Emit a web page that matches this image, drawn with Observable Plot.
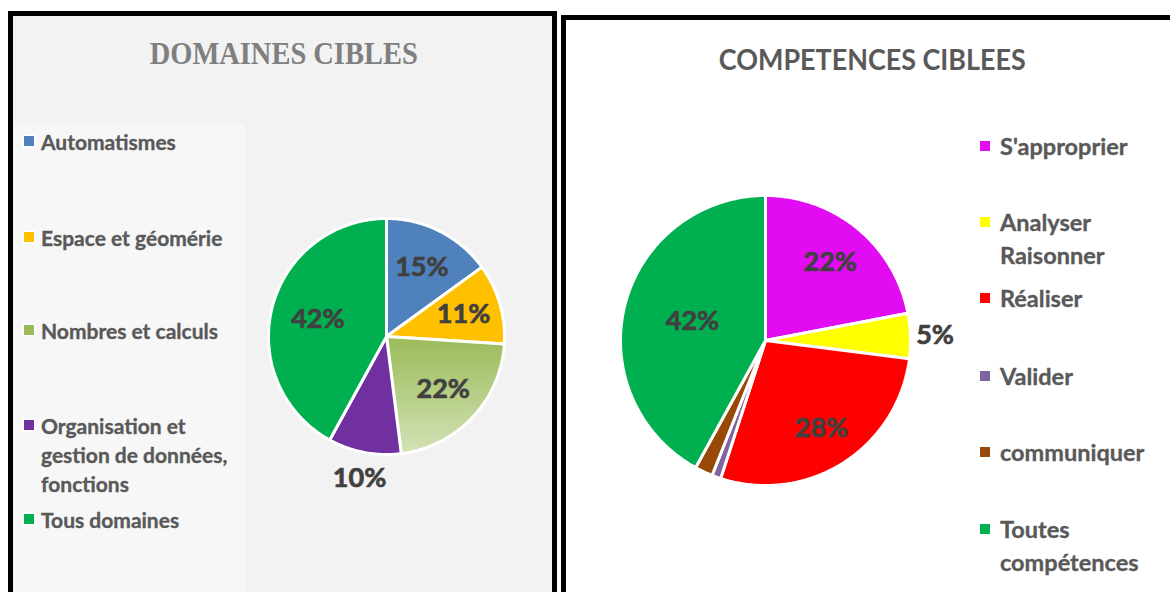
<!DOCTYPE html>
<html>
<head>
<meta charset="utf-8">
<script src="https://cdn.jsdelivr.net/npm/d3@7"></script>
<script src="https://cdn.jsdelivr.net/npm/@observablehq/plot@0.6"></script>
<style>
  html, body { margin: 0; padding: 0; background: #ffffff; }
  body { width: 1170px; height: 592px; position: relative; overflow: hidden; font-family: Lato, "Open Sans", sans-serif; }
  .panel { position: absolute; box-sizing: border-box; border: 5px solid #000; }
  #left { left: 8px; top: 11px; width: 549px; height: 640px; background: #f2f2f2; }
  #right { left: 561px; top: 15px; width: 700px; height: 640px; background: #ffffff; }
  #legendBox { position: absolute; left: 14px; top: 124px; width: 231px; height: 520px; background: #f7f7f7; }
  .title { position: absolute; white-space: nowrap; font-weight: bold; transform-origin: center center; }
  .leg { position: absolute; font-weight: bold; white-space: nowrap; -webkit-text-stroke: 0.35px currentColor; }
  .sw { position: absolute; width: 10px; height: 10px; box-shadow: 0 0 0 1.5px #fff; }
  .plot { position: absolute; }
</style>
</head>
<body>
<div class="panel" id="left"></div>
<div class="panel" id="right"></div>
<div id="legendBox"></div>
<div id="stage"></div>
<script>
// ---------- data ----------
const domaines = ["Automatismes", "Espace et géomérie", "Nombres et calculs", "Organisation et gestion de données, fonctions", "Tous domaines"];
const domainesLegendLines = [["Automatismes"], ["Espace et géomérie"], ["Nombres et calculs"], ["Organisation et", "gestion de données,", "fonctions"], ["Tous domaines"]];
const domainesValues = [15, 11, 22, 10, 42];
const domainesLabels = ["15%", "11%", "22%", "10%", "42%"];
const domainesColors = ["#4f81bd", "#ffc000", "url(#gradNombres)", "#7030a0", "#00b050"];
const domainesSwatch = ["#4f81bd", "#ffc000", "#9bbb59", "#7030a0", "#00b050"];

const competences = ["S'approprier", "Analyser Raisonner", "Réaliser", "Valider", "communiquer", "Toutes compétences"];
const competencesLegendLines = [["S'approprier"], ["Analyser", "Raisonner"], ["Réaliser"], ["Valider"], ["communiquer"], ["Toutes", "compétences"]];
const competencesValues = [22, 5, 28, 1, 2, 42];
const competencesLabels = ["22%", "5%", "28%", "", "", "42%"];
const competencesColors = ["#e10cf2", "#ffff00", "#ff0000", "#8064a2", "#984807", "#00b050"];

// ---------- layout / style (not data) ----------
const leftPie = { cx: 386, cy: 336, r: 118, R: 1.5, labelR: [0.66, 0.68, 0.66, 1.22, 0.6] };
const rightPie = { cx: 765, cy: 340, r: 145, R: 1.4, labelR: [0.7, 1.17, 0.72, 0, 0, 0.52] };
const FONT = "Lato, 'Open Sans', sans-serif";

function slicePolygons(names, values) {
  const arcs = d3.pie().sort(null).value(d => d)(values);
  return arcs.map((a, i) => {
    const pts = [{x: 0, y: 0}];
    const n = Math.max(2, Math.ceil((a.endAngle - a.startAngle) / 0.01));
    for (let k = 0; k <= n; k++) {
      const t = a.startAngle + (a.endAngle - a.startAngle) * k / n;
      pts.push({x: Math.sin(t), y: Math.cos(t)});
    }
    pts.push({x: 0, y: 0});
    return {name: names[i], mid: (a.startAngle + a.endAngle) / 2, pts};
  });
}

function pie(names, values, labels, colors, cfg, gradient) {
  const slices = slicePolygons(names, values);
  const labelData = slices.map((s, i) => ({
    x: cfg.labelR[i] * Math.sin(s.mid), y: cfg.labelR[i] * Math.cos(s.mid), text: labels[i]
  })).filter(d => d.text);
  const size = 2 * cfg.R * cfg.r;
  const svg = Plot.plot({
    width: size, height: size, margin: 0,
    x: {domain: [-cfg.R, cfg.R], axis: null},
    y: {domain: [-cfg.R, cfg.R], axis: null},
    style: {background: "transparent", overflow: "visible"},
    marks: [
      ...slices.map((s, i) => Plot.line(s.pts, {x: "x", y: "y", fill: colors[i], stroke: "#ffffff", strokeWidth: 3, strokeLinejoin: "miter"})),
      Plot.text(labelData, {x: "x", y: "y", text: "text", fontSize: 27, fontWeight: "bold", fill: "#404040", stroke: "#404040", strokeWidth: 0.7, fontFamily: FONT})
    ]
  });
  if (gradient) {
    const defs = document.createElementNS("http://www.w3.org/2000/svg", "defs");
    defs.innerHTML = gradient;
    svg.insertBefore(defs, svg.firstChild);
  }
  svg.classList.add("plot");
  svg.style.left = (cfg.cx - size / 2) + "px";
  svg.style.top = (cfg.cy - size / 2) + "px";
  document.getElementById("stage").appendChild(svg);
}

pie(domaines, domainesValues, domainesLabels, domainesColors, leftPie,
  '<linearGradient id="gradNombres" x1="0" y1="0" x2="0" y2="1"><stop offset="0" stop-color="#9bbb59"/><stop offset="1" stop-color="#d3e2b6"/></linearGradient>');
pie(competences, competencesValues, competencesLabels, competencesColors, rightPie, null);

// ---------- titles ----------
function title(text, cx, cy, width, font, size, color) {
  const d = document.createElement("div");
  d.className = "title";
  d.textContent = text;
  d.style.fontFamily = font; d.style.fontSize = size + "px"; d.style.color = color; d.style.lineHeight = size + "px";
  document.body.appendChild(d);
  const w = d.getBoundingClientRect().width;
  d.style.left = (cx - w / 2) + "px";
  d.style.top = (cy - size / 2) + "px";
  d.style.transform = `scaleX(${width / w})`;
}
title("DOMAINES CIBLES", 284, 53, 268, "'Liberation Serif', 'DejaVu Serif', serif", 32, "#7f7f7f");
title("COMPETENCES CIBLEES", 872, 58, 307, FONT, 29, "#595959");

// ---------- legends ----------
function legend(lines, colors, centers, swX, textX, size, lh, color) {
  lines.forEach((ls, i) => {
    const sw = document.createElement("div");
    sw.className = "sw";
    sw.style.background = colors[i];
    sw.style.left = swX + "px";
    sw.style.top = (centers[i] - 5) + "px";
    document.body.appendChild(sw);
    ls.forEach((t, j) => {
      const d = document.createElement("div");
      d.className = "leg";
      d.textContent = t;
      d.style.left = textX + "px";
      d.style.top = (centers[i] + j * lh - lh / 2) + "px";
      d.style.fontSize = size + "px"; d.style.lineHeight = lh + "px"; d.style.color = color;
      document.body.appendChild(d);
    });
  });
}
legend(domainesLegendLines, domainesSwatch, [141, 237, 330, 425, 519], 24, 41, 21, 29, "#595959");
legend(competencesLegendLines, competencesColors, [146, 222, 298, 376, 452, 529], 980, 1000, 23.5, 33, "#595959");
</script>
</body>
</html>
